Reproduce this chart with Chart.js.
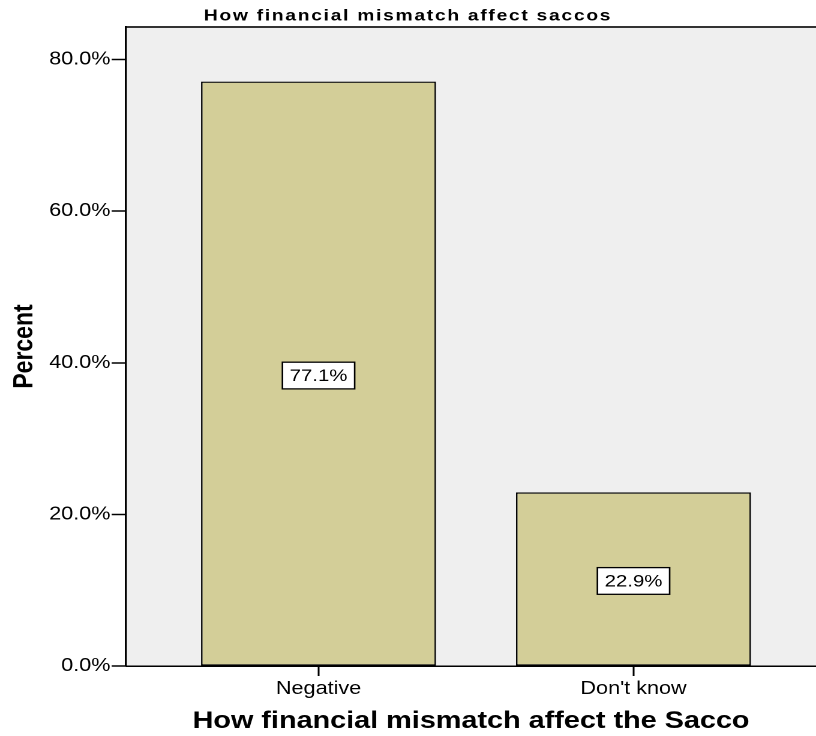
<!DOCTYPE html>
<html>
<head>
<meta charset="utf-8">
<script src="https://cdn.jsdelivr.net/npm/chart.js@4.4.0/dist/chart.umd.min.js"></script>
<style>
html, body { margin: 0; padding: 0; background: #fff; overflow: hidden; }
#wrap { width: 680px; height: 736px; transform: scaleX(1.2); transform-origin: 0 0; }
</style>
</head>
<body>
<div id="wrap"><canvas id="c" width="680" height="736"></canvas></div>
<script>
const categories = ['Negative', "Don't know"];
const percentValues = [77.1, 22.9];
const yTickValues = [0, 20, 40, 60, 80];
const chartTitle = 'How financial mismatch affect saccos';
const xAxisTitle = 'How financial mismatch affect the Sacco';
const yAxisTitle = 'Percent';

const FONT = "'Liberation Sans', Arial, sans-serif";
Chart.defaults.font.family = FONT;
Chart.defaults.color = '#000';

const plotDecor = {
  id: 'plotDecor',
  beforeDraw(chart) {
    const { ctx, chartArea: a } = chart;
    ctx.save();
    ctx.fillStyle = '#EFEFEF';
    ctx.fillRect(a.left, a.top, a.right - a.left, a.bottom - a.top);
    ctx.strokeStyle = '#333';
    ctx.lineWidth = 2;
    ctx.beginPath();
    ctx.moveTo(a.left, a.top);
    ctx.lineTo(a.right, a.top);
    ctx.stroke();
    ctx.restore();
    ctx.letterSpacing = '1.45px';
  },
  beforeDatasetsDraw(chart) {
    chart.ctx.letterSpacing = '0px';
  },
  afterDatasetsDraw(chart) {
    const ctx = chart.ctx;
    const meta = chart.getDatasetMeta(0);
    ctx.save();
    ctx.font = '17px ' + FONT;
    ctx.textAlign = 'center';
    ctx.textBaseline = 'middle';
    meta.data.forEach((bar, i) => {
      const text = percentValues[i].toFixed(1) + '%';
      const w = ctx.measureText(text).width + 12;
      const h = 26.7;
      const cx = bar.x;
      const cy = (bar.y + bar.base) / 2 + 2;
      ctx.fillStyle = '#fff';
      ctx.fillRect(cx - w / 2, cy - h / 2, w, h);
      ctx.strokeStyle = '#000';
      ctx.lineWidth = 1.3;
      ctx.strokeRect(cx - w / 2, cy - h / 2, w, h);
      ctx.fillStyle = '#000';
      ctx.fillText(text, cx, cy + 1);
    });
    ctx.restore();
  }
};

new Chart(document.getElementById('c'), {
  type: 'bar',
  data: {
    datasets: [{
      data: categories.map((c, i) => ({ x: i + 1, y: percentValues[i] })),
      backgroundColor: '#D3CE98',
      borderColor: '#000',
      borderWidth: 1.3,
      borderSkipped: false,
      categoryPercentage: 0.746,
      barPercentage: 1
    }]
  },
  options: {
    responsive: false,
    devicePixelRatio: 2,
    animation: false,
    layout: { padding: 0 },
    plugins: {
      legend: { display: false },
      tooltip: { enabled: false },
      title: {
        display: true,
        text: chartTitle,
        color: '#000',
        font: { size: 16, weight: 'bold' },
        padding: { top: 6.4, bottom: 1.4 }
      }
    },
    scales: {
      x: {
        type: 'linear',
        min: 0.3889,
        max: 2.5794,
        offset: false,
        afterBuildTicks: s => { s.ticks = categories.map((c, i) => ({ value: i + 1 })); },
        ticks: {
          z: 1,
          callback: v => categories[Math.round(v) - 1] || '',
          font: { size: 18 },
          color: '#000',
          padding: 2,
          autoSkip: false,
          maxRotation: 0
        },
        grid: { z: 1, offset: false, drawOnChartArea: false, drawTicks: true, tickLength: 10, tickColor: '#000', tickWidth: 1.5 },
        border: { z: 1, display: true, color: '#000', width: 1.5 },
        title: {
          display: true,
          text: xAxisTitle,
          color: '#000',
          font: { size: 24, weight: 'bold' },
          padding: { top: 5.6, bottom: 0 }
        }
      },
      y: {
        min: 0,
        max: 84.3,
        afterBuildTicks: s => { s.ticks = yTickValues.map(v => ({ value: v })); },
        ticks: {
          z: 1,
          callback: v => Number(v).toFixed(1) + '%',
          font: { size: 18 },
          color: '#000',
          padding: 1
        },
        grid: { z: 1, drawOnChartArea: false, drawTicks: true, tickLength: 12, tickColor: '#000', tickWidth: 1.5 },
        border: { z: 1, display: true, color: '#000', width: 1.7 },
        title: {
          display: true,
          text: yAxisTitle,
          color: '#000',
          font: { size: 23, weight: 'bold' },
          padding: { top: 7, bottom: 5.4 }
        }
      }
    }
  },
  plugins: [plotDecor]
});
</script>
</body>
</html>
